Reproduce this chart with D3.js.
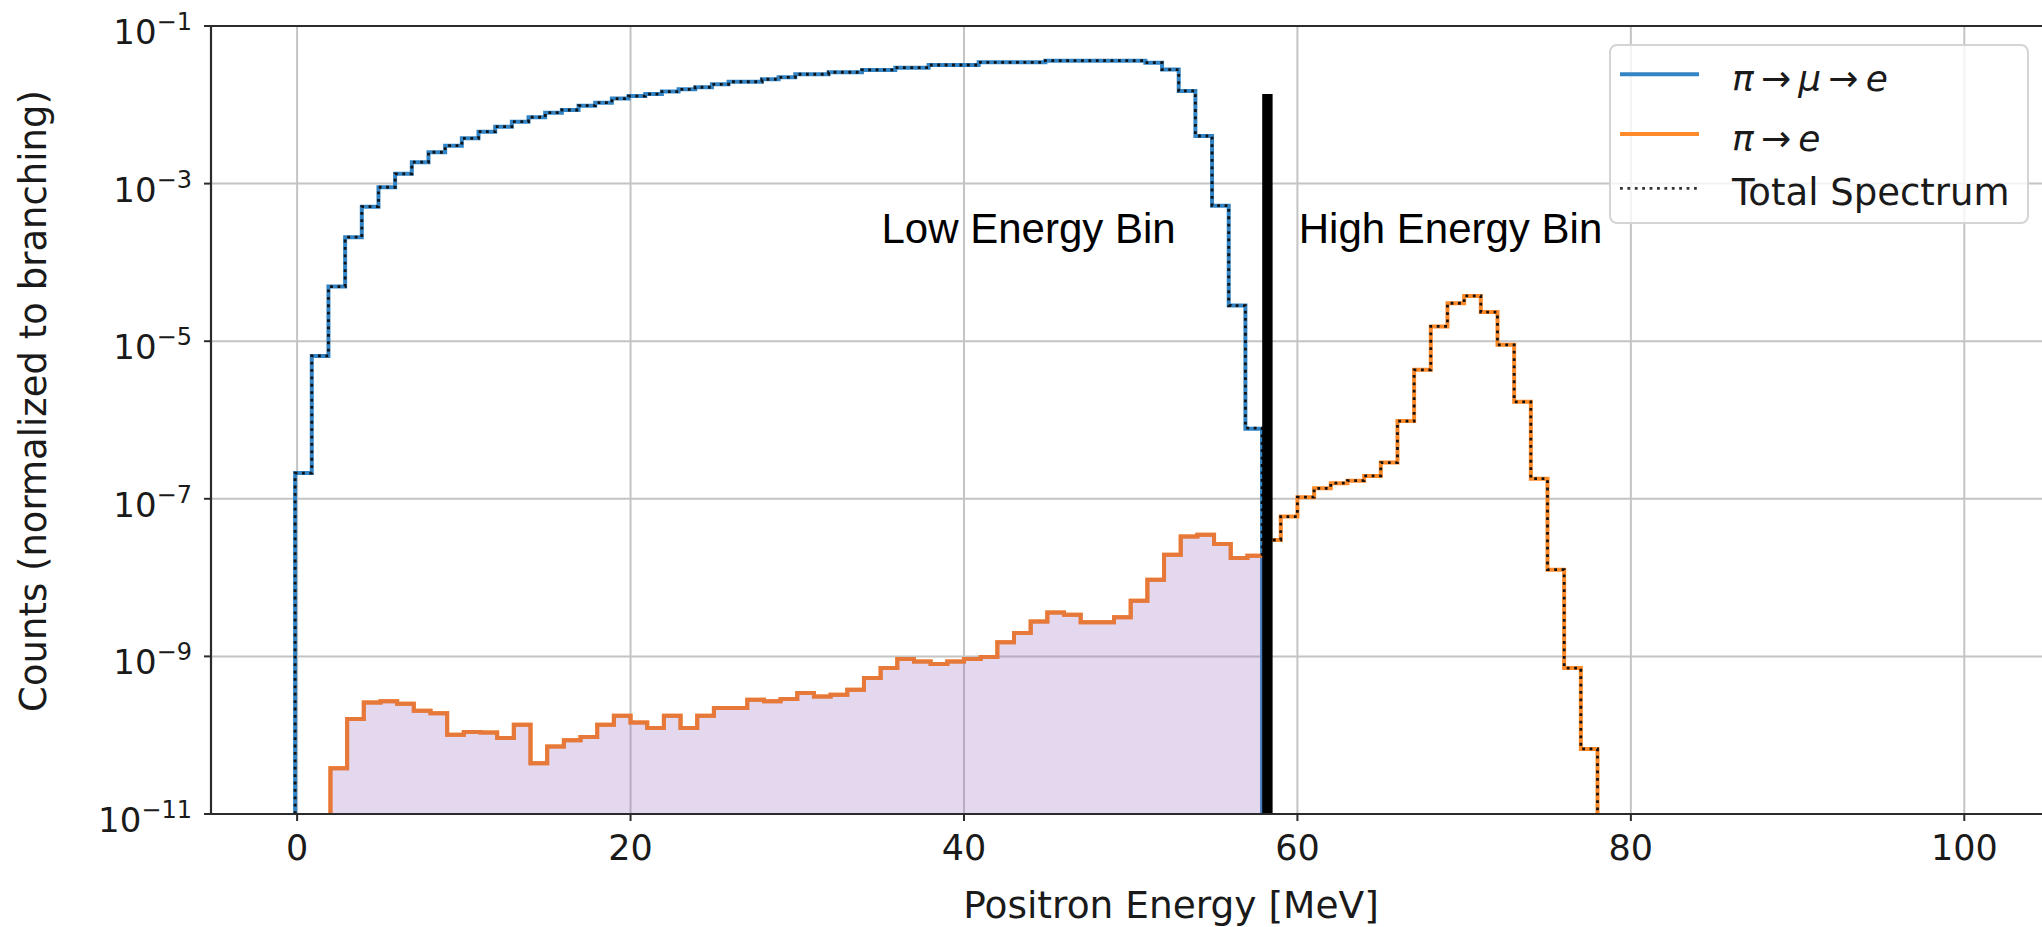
<!DOCTYPE html>
<html>
<head>
<meta charset="utf-8">
<script src="https://cdn.jsdelivr.net/npm/d3@7"></script>
<style>
  html, body { margin: 0; padding: 0; background: #fff; }
  svg { display: block; }
  text { font-family: "DejaVu Sans", sans-serif; fill: #1a1a1a; }
</style>
</head>
<body>
<svg id="chart" width="2042" height="927"></svg>
<script>
// histograms use 1 MeV bins, each series starts at its first bin edge
const binWidth = 1;

// pi -> mu -> e spectrum
const muStart = -0.12;
const muCounts = [
  2.12e-7, 6.51e-6, 4.93e-5, 2.09e-4, 5.10e-4, 8.99e-4, 1.33e-3, 1.87e-3, 2.50e-3, 3.03e-3,
  3.76e-3, 4.56e-3, 5.28e-3, 6.11e-3, 6.95e-3, 7.94e-3, 8.59e-3, 9.75e-3, 1.064e-2, 1.20e-2,
  1.29e-2, 1.37e-2, 1.47e-2, 1.57e-2, 1.67e-2, 1.82e-2, 1.96e-2, 1.96e-2, 2.11e-2, 2.23e-2,
  2.44e-2, 2.44e-2, 2.59e-2, 2.59e-2, 2.77e-2, 2.77e-2, 2.96e-2, 2.96e-2, 3.20e-2, 3.20e-2,
  3.20e-2, 3.46e-2, 3.46e-2, 3.46e-2, 3.46e-2, 3.63e-2, 3.63e-2, 3.63e-2, 3.63e-2, 3.63e-2,
  3.63e-2, 3.42e-2, 2.80e-2, 1.50e-2, 4.02e-3, 5.25e-4, 2.83e-5, 7.72e-7
];

// pi -> e spectrum
const eStart = 2;
const eCounts = [
  3.8e-11, 1.6e-10, 2.6e-10, 2.7e-10, 2.5e-10, 2.04e-10, 1.9e-10, 1.01e-10, 1.1e-10, 1.08e-10,
  9.2e-11, 1.36e-10, 4.4e-11, 7.2e-11, 8.6e-11, 9.5e-11, 1.36e-10, 1.77e-10, 1.45e-10, 1.23e-10,
  1.77e-10, 1.23e-10, 1.77e-10, 2.21e-10, 2.21e-10, 2.82e-10, 2.69e-10, 2.88e-10, 3.43e-10, 3.1e-10,
  3.26e-10, 3.77e-10, 5.31e-10, 7.1e-10, 9.25e-10, 8.63e-10, 8.0e-10, 8.63e-10, 9.25e-10, 9.8e-10,
  1.51e-9, 1.98e-9, 2.78e-9, 3.61e-9, 3.37e-9, 2.72e-9, 2.72e-9, 3.15e-9, 5.08e-9, 9.38e-9,
  1.95e-8, 3.32e-8, 3.49e-8, 2.66e-8, 1.77e-8, 1.89e-8, 3.0e-8, 5.95e-8, 1.05e-7, 1.36e-7,
  1.58e-7, 1.7e-7, 1.95e-7, 2.88e-7, 9.7e-7, 4.33e-6, 1.54e-5, 3.03e-5, 3.76e-5, 2.34e-5,
  9.0e-6, 1.7e-6, 1.8e-7, 1.26e-8, 7.1e-10, 6.7e-11
];

const xTicks = [0, 20, 40, 60, 80, 100];
const yTicks = [1e-1, 1e-3, 1e-5, 1e-7, 1e-9, 1e-11];
const yTickExps = ["\u22121", "\u22123", "\u22125", "\u22127", "\u22129", "\u221211"];

// the cut between the two energy bins
const cutEnergy = 58.2;
const cutTop = 1.37e-2;
const binLabels = [
  { text: "Low Energy Bin", x: 35.05, y: 1.78e-4 },
  { text: "High Energy Bin", x: 60.08, y: 1.78e-4 }
];

const legendItems = [
  { parts: [["\u03c0", true], ["\u2009\u2192\u2009", false], ["\u03bc", true], ["\u2009\u2192\u2009", false], ["e", true]], kind: "mu" },
  { parts: [["\u03c0", true], ["\u2009\u2192\u2009", false], ["e", true]], kind: "e" },
  { parts: [["Total Spectrum", false]], kind: "total" }
];

const blue = "#3384c4", orange = "#ff8a2a", orangeUnderFill = "#e6783a";

const svg = d3.select("#chart");
svg.append("rect").attr("width", 2042).attr("height", 927).attr("fill", "#fff");

const pLeft = 211, pRight = 2106, pTop = 26, pBottom = 814;
const x = d3.scaleLinear().domain([-5.165, 108.5]).range([pLeft, pRight]);
const y = d3.scaleLog().domain([1e-11, 1e-1]).range([pBottom, pTop]);
const floorVal = y.domain()[0];

const defs = svg.append("defs");
defs.append("clipPath").attr("id", "plot")
  .append("rect").attr("x", pLeft).attr("y", pTop).attr("width", pRight - pLeft).attr("height", pBottom - pTop);

const muEnd = muStart + muCounts.length * binWidth;
defs.append("clipPath").attr("id", "low")
  .append("rect").attr("x", pLeft).attr("y", pTop).attr("width", x(muEnd) - pLeft).attr("height", pBottom - pTop);

// grid
const grid = svg.append("g");
grid.selectAll("line.gx").data(xTicks).enter().append("line")
  .attr("x1", d => x(d)).attr("x2", d => x(d)).attr("y1", pTop).attr("y2", pBottom)
  .attr("stroke", "#c4c4c4").attr("stroke-width", 2);
grid.selectAll("line.gy").data(yTicks).enter().append("line")
  .attr("x1", pLeft).attr("x2", pRight).attr("y1", d => y(d)).attr("y2", d => y(d))
  .attr("stroke", "#c4c4c4").attr("stroke-width", 2);

// histogram outline helpers
function stepPoints(start, vals) {
  const pts = [[start, floorVal]];
  vals.forEach((v, i) => {
    pts.push([start + i * binWidth, v]);
    pts.push([start + (i + 1) * binWidth, v]);
  });
  pts.push([start + vals.length * binWidth, floorVal]);
  return pts;
}
function valueAt(start, vals, e) {
  const i = Math.floor((e - start) / binWidth);
  return (i >= 0 && i < vals.length) ? vals[i] : 0;
}

// total spectrum on the union of both bin grids
const edges = [];
muCounts.forEach((v, i) => edges.push(muStart + i * binWidth));
edges.push(muEnd);
eCounts.forEach((v, i) => edges.push(eStart + i * binWidth));
edges.push(eStart + eCounts.length * binWidth);
const uniq = Array.from(new Set(edges.map(e => +e.toFixed(6)))).sort((a, b) => a - b);
const totalPts = [[uniq[0], floorVal]];
for (let i = 0; i < uniq.length - 1; i++) {
  const a = uniq[i], b = uniq[i + 1], m = (a + b) / 2;
  const v = valueAt(muStart, muCounts, m) + valueAt(eStart, eCounts, m);
  totalPts.push([a, v || floorVal]);
  totalPts.push([b, v || floorVal]);
}
totalPts.push([uniq[uniq.length - 1], floorVal]);

const line = d3.line().x(d => x(d[0])).y(d => y(Math.max(d[1], floorVal)));

const plot = svg.append("g").attr("clip-path", "url(#plot)");

plot.append("path").attr("d", line(stepPoints(muStart, muCounts)))
  .attr("fill", "none").attr("stroke", blue).attr("stroke-width", 4);

plot.append("path").attr("d", line(stepPoints(eStart, eCounts)))
  .attr("fill", "none").attr("stroke", orange).attr("stroke-width", 4);

// shaded pi -> e part inside the low energy bin
const low = plot.append("g").attr("clip-path", "url(#low)");
low.append("path").attr("d", line(stepPoints(eStart, eCounts)) + "Z")
  .attr("fill", "#9467bd").attr("fill-opacity", 0.26);
low.append("path").attr("d", line(stepPoints(eStart, eCounts)))
  .attr("fill", "none").attr("stroke", orangeUnderFill).attr("stroke-width", 4);

plot.append("path").attr("d", line(totalPts))
  .attr("fill", "none").attr("stroke", "#111").attr("stroke-width", 2.8)
  .attr("stroke-dasharray", "2.8,4.6");

// cut line
svg.append("line")
  .attr("x1", x(cutEnergy)).attr("x2", x(cutEnergy))
  .attr("y1", y(cutTop)).attr("y2", y(floorVal))
  .attr("stroke", "#000").attr("stroke-width", 10.4);

// spines
const spine = svg.append("g").attr("stroke", "#2b2b2b").attr("stroke-width", 2.2);
spine.append("line").attr("x1", pLeft).attr("x2", pRight).attr("y1", pTop).attr("y2", pTop);
spine.append("line").attr("x1", pLeft).attr("x2", pRight).attr("y1", pBottom).attr("y2", pBottom);
spine.append("line").attr("x1", pLeft).attr("x2", pLeft).attr("y1", pTop).attr("y2", pBottom);

// x ticks
const xt = svg.append("g");
xt.selectAll("line").data(xTicks).enter().append("line")
  .attr("x1", d => x(d)).attr("x2", d => x(d)).attr("y1", pBottom).attr("y2", pBottom + 7)
  .attr("stroke", "#2b2b2b").attr("stroke-width", 2);
xt.selectAll("text").data(xTicks).enter().append("text")
  .attr("x", d => x(d)).attr("y", 860).attr("text-anchor", "middle")
  .attr("font-size", 35).text(d => d);

// y ticks (log, mathtext style labels)
const yt = svg.append("g");
yt.selectAll("line").data(yTicks).enter().append("line")
  .attr("x1", pLeft - 7).attr("x2", pLeft).attr("y1", d => y(d)).attr("y2", d => y(d))
  .attr("stroke", "#2b2b2b").attr("stroke-width", 2);
const yl = yt.selectAll("text").data(yTicks).enter().append("text")
  .attr("x", 192).attr("y", d => y(d) + 18).attr("text-anchor", "end").attr("font-size", 34);
yl.append("tspan").text("10");
yl.append("tspan").attr("dy", -14).attr("font-size", 24).text((d, i) => yTickExps[i]);

// axis labels
svg.append("text").attr("x", 1171).attr("y", 918).attr("text-anchor", "middle")
  .attr("font-size", 37.5).text("Positron Energy [MeV]");
svg.append("text").attr("transform", "translate(46,401) rotate(-90)")
  .attr("text-anchor", "middle").attr("font-size", 37).text("Counts (normalized to branching)");

// bin annotations
svg.selectAll("text.bin").data(binLabels).enter().append("text")
  .attr("class", "bin")
  .attr("x", d => x(d.x)).attr("y", d => y(d.y))
  .style("font-family", "'Liberation Sans', Arial, sans-serif").style("fill", "#000")
  .attr("font-size", 42).text(d => d.text);

// legend
const lg = svg.append("g");
lg.append("rect").attr("x", 1610).attr("y", 45).attr("width", 418).attr("height", 178)
  .attr("rx", 7).attr("fill", "#fff").attr("fill-opacity", 0.8)
  .attr("stroke", "#d4d4d4").attr("stroke-width", 2);
const rowY = [74.3, 134, 188.3];
legendItems.forEach((it, i) => {
  const s = lg.append("line").attr("x1", 1620).attr("x2", 1699)
    .attr("y1", rowY[i]).attr("y2", rowY[i]);
  if (it.kind === "mu") s.attr("stroke", blue).attr("stroke-width", 4);
  else if (it.kind === "e") s.attr("stroke", orange).attr("stroke-width", 4);
  else s.attr("stroke", "#333").attr("stroke-width", 2.8).attr("stroke-dasharray", "2.8,4.6");
  const t = lg.append("text").attr("x", 1732).attr("y", rowY[i] + 17)
    .attr("font-size", it.kind === "total" ? 37 : 36);
  it.parts.forEach(p => {
    t.append("tspan").attr("font-style", p[1] ? "italic" : "normal").text(p[0]);
  });
});
</script>
</body>
</html>
